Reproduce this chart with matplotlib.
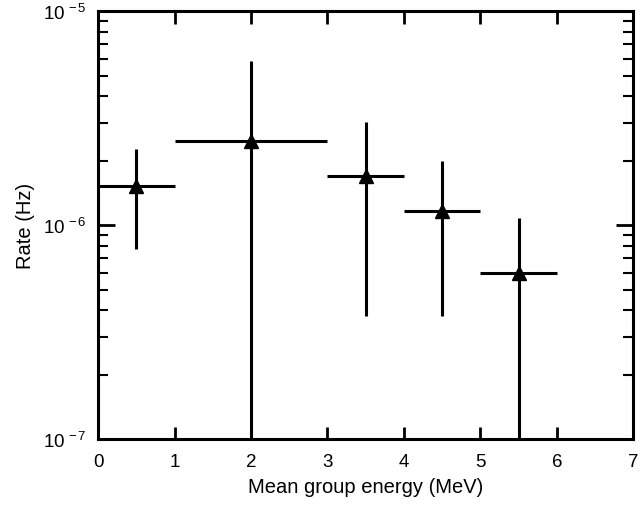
import matplotlib
matplotlib.use('Agg')
import matplotlib.pyplot as plt
import numpy as np
from matplotlib.ticker import LogLocator, NullFormatter, MultipleLocator, FuncFormatter

plt.rcParams['font.family'] = ['Liberation Sans', 'DejaVu Sans']
plt.rcParams['mathtext.fontset'] = 'custom'
plt.rcParams['mathtext.rm'] = 'Liberation Sans'
plt.rcParams['mathtext.it'] = 'Liberation Sans:italic'

# data
energy = [0.5, 2.0, 3.5, 4.5, 5.5]
x_lo = [0.0, 1.0, 3.0, 4.0, 5.0]
x_hi = [1.0, 3.0, 4.0, 5.0, 6.0]
rate = [1.52e-6, 2.48e-6, 1.70e-6, 1.17e-6, 6.0e-7]
rate_lo = [7.7e-7, 5e-8, 3.76e-7, 3.76e-7, 5e-8]
rate_hi = [2.27e-6, 5.85e-6, 3.05e-6, 2.0e-6, 1.08e-6]

energy = np.array(energy)
rate = np.array(rate)
xerr = [energy - np.array(x_lo), np.array(x_hi) - energy]
yerr = [rate - np.array(rate_lo), np.array(rate_hi) - rate]

fig = plt.figure(figsize=(6.41, 5.10), dpi=100)
ax = fig.add_axes([0.153, 0.137, 0.835, 0.839])

ax.errorbar(energy, rate, xerr=xerr, yerr=yerr, fmt='^', color='black',
            ms=10, elinewidth=2.2, capsize=0)

ax.set_yscale('log')
ax.set_xlim(0, 7)
ax.set_ylim(1e-7, 1e-5)
ax.xaxis.set_major_locator(MultipleLocator(1))
ax.yaxis.set_major_locator(LogLocator(base=10, numticks=10))
ax.yaxis.set_minor_locator(LogLocator(base=10, subs=np.arange(2, 10), numticks=10))
ax.yaxis.set_minor_formatter(NullFormatter())

def pow10(v, pos):
    e = int(round(np.log10(v)))
    return r'$\mathregular{10^{\,%d}}$' % e
ax.yaxis.set_major_formatter(FuncFormatter(pow10))

ax.tick_params(which='both', direction='in', top=True, right=True, labelsize=13.5)
ax.tick_params(axis='x', which='major', length=9, width=2, pad=10)
ax.tick_params(axis='y', which='major', length=12, width=2, pad=8)
ax.tick_params(which='minor', length=7, width=1.5)
for s in ax.spines.values():
    s.set_linewidth(2.2)

ax.set_xlabel('Mean group energy (MeV)', fontsize=14.5, labelpad=5)
ax.set_ylabel('Rate (Hz)', fontsize=14.5, labelpad=6)

fig.savefig('out.png', dpi=100)
